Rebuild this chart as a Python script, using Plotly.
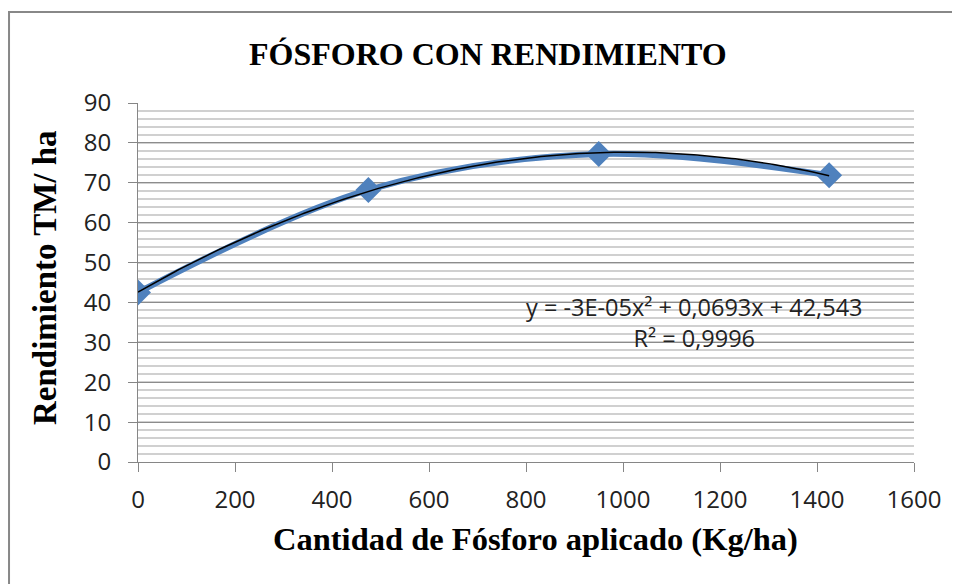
import numpy as np
import plotly.graph_objects as go

# -----------------------------
# Data
# -----------------------------
fosforo = [0, 475, 950, 1425]          # Kg/ha
rendimiento = [42.5, 68.2, 77.2, 71.9]  # TM/ha

x_ticks = [0, 200, 400, 600, 800, 1000, 1200, 1400, 1600]
y_ticks = [0, 10, 20, 30, 40, 50, 60, 70, 80, 90]

ecuacion = "y = -3E-05x² + 0,0693x + 42,543<br>R² = 0,9996"

BLUE = "#4F81BD"
SERIF = "Liberation Serif, Times New Roman, serif"
SANS = "Open Sans, Noto Sans, sans-serif"

# polynomial trendline (order 2), same as Excel
coef = np.polyfit(fosforo, rendimiento, 2)
xt = np.linspace(min(fosforo), max(fosforo), 200)
yt = np.polyval(coef, xt)

fig = go.Figure()

fig.add_trace(go.Scatter(
    x=fosforo, y=rendimiento,
    mode="lines+markers",
    line=dict(color=BLUE, width=6, shape="spline", smoothing=1),
    marker=dict(symbol="diamond", size=20, color=BLUE),
    showlegend=False,
))

fig.add_trace(go.Scatter(
    x=xt, y=yt,
    mode="lines",
    line=dict(color="black", width=1.5),
    showlegend=False,
))

# page body has an 8px margin, so the figure is 8px smaller than the window
fig.update_layout(
    width=952, height=576,
    margin=dict(l=130, r=46, t=95, b=122),
    paper_bgcolor="white",
    plot_bgcolor="white",
    title=dict(
        text="<b>FÓSFORO CON RENDIMIENTO</b>",
        font=dict(family=SERIF, size=32, color="black"),
        x=0.504, xref="container", xanchor="center",
        y=1 - 46 / 576, yref="container", yanchor="middle",
    ),
)

fig.update_xaxes(
    range=[0, 1600],
    tickvals=x_ticks,
    showgrid=False,
    showline=True, linecolor="#868686", linewidth=1,
    ticks="outside", ticklen=9, tickcolor="#868686",
    ticklabelstandoff=7,
    tickfont=dict(family=SANS, size=24, color="#222222"),
    zeroline=False,
)

fig.update_yaxes(
    range=[0, 90],
    tickvals=y_ticks,
    showgrid=True, gridcolor="#8c8c8c", gridwidth=1,
    minor=dict(dtick=2, showgrid=True, gridcolor="#d0d0d0", gridwidth=1.5),
    showline=True, linecolor="#868686", linewidth=1,
    ticks="outside", ticklen=9, tickcolor="#868686",
    ticklabelstandoff=12,
    tickfont=dict(family=SANS, size=24, color="#222222"),
    zeroline=False,
)

# equation of the trendline
fig.add_annotation(
    x=1148, y=35, xref="x", yref="y",
    text=ecuacion, showarrow=False,
    xanchor="center", yanchor="middle",
    font=dict(family=SANS, size=23.5, color="#222222"),
    align="center",
)

# axis titles
fig.add_annotation(
    x=0.5116, y=-0.2145, xref="paper", yref="paper",
    xanchor="center", yanchor="middle",
    text="<b>Cantidad de Fósforo aplicado (Kg/ha)</b>",
    showarrow=False,
    font=dict(family=SERIF, size=32.5, color="black"),
)
fig.add_annotation(
    x=-0.12, y=0.515, xref="paper", yref="paper",
    xanchor="center", yanchor="middle",
    text="<b>Rendimiento TM/ ha</b>",
    showarrow=False, textangle=-90,
    font=dict(family=SERIF, size=33, color="black"),
)

# chart area border
fig.add_shape(
    type="rect", xref="paper", yref="paper",
    x0=-0.1662, y0=-0.4, x1=1.08, y1=1.2535,
    line=dict(color="#888888", width=2),
    fillcolor="rgba(0,0,0,0)", layer="below",
)

fig.write_html("out.html")
